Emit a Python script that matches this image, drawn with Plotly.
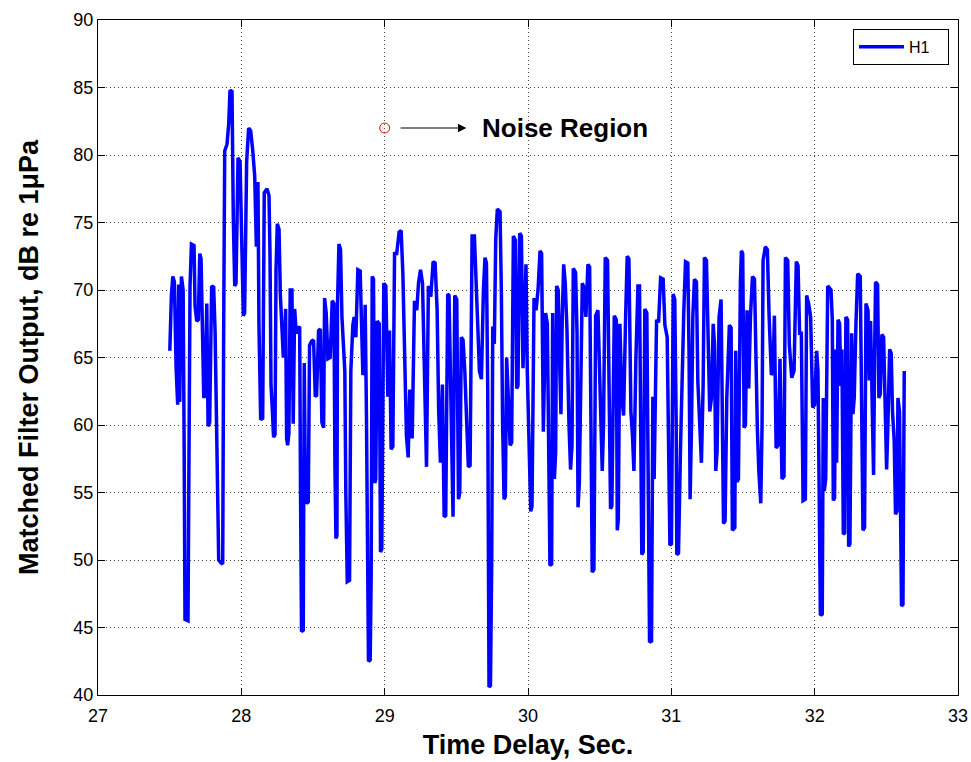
import plotly.graph_objects as go

# Time delay (s) and matched filter output (dB re 1uPa)
time_s = [
    27.501, 27.512, 27.522, 27.533, 27.545, 27.556, 27.563, 27.570, 27.582, 27.594,
    27.601, 27.607, 27.628, 27.635, 27.642, 27.652, 27.670, 27.677, 27.689, 27.700,
    27.710, 27.719, 27.726, 27.738, 27.747, 27.759, 27.768, 27.779, 27.793, 27.807,
    27.817, 27.826, 27.835, 27.842, 27.858, 27.870, 27.877, 27.884, 27.900, 27.912,
    27.921, 27.935, 27.944, 27.954, 27.963, 27.977, 27.991, 28.002, 28.014, 28.023,
    28.037, 28.051, 28.065, 28.079, 28.093, 28.105, 28.116,
    28.123, 28.135, 28.149, 28.160, 28.179, 28.193, 28.200, 28.207, 28.216, 28.225,
    28.235, 28.242, 28.251, 28.263, 28.272, 28.281, 28.293, 28.300, 28.309, 28.316,
    28.323, 28.332, 28.341, 28.353, 28.362, 28.372, 28.383, 28.395, 28.407, 28.413,
    28.420, 28.432, 28.439, 28.446, 28.455, 28.467, 28.476, 28.490, 28.504, 28.516,
    28.525, 28.539, 28.551, 28.562, 28.574, 28.581, 28.592, 28.604, 28.620, 28.634,
    28.646, 28.653, 28.660, 28.667, 28.671, 28.681, 28.692, 28.702, 28.713, 28.722,
    28.729, 28.739, 28.755, 28.764, 28.778,
    28.787, 28.799, 28.813, 28.829, 28.839, 28.848, 28.857, 28.864, 28.873, 28.880,
    28.887, 28.899, 28.906, 28.913, 28.922, 28.931, 28.938, 28.948, 28.962, 28.971,
    28.980, 28.994, 29.008, 29.022, 29.034, 29.045, 29.057, 29.069, 29.083, 29.101,
    29.115, 29.127, 29.141, 29.152, 29.164, 29.175, 29.182, 29.192, 29.208, 29.224,
    29.236, 29.250, 29.264, 29.278, 29.292, 29.305, 29.322, 29.338, 29.352, 29.366,
    29.377, 29.389, 29.403, 29.415, 29.426, 29.440,
    29.449, 29.459, 29.466, 29.477, 29.489, 29.503, 29.515, 29.524, 29.535, 29.547,
    29.559, 29.570, 29.584, 29.596, 29.610, 29.626, 29.638, 29.649, 29.661, 29.675,
    29.689, 29.700, 29.710, 29.719, 29.724, 29.728, 29.738, 29.747, 29.754, 29.765,
    29.775, 29.786, 29.805, 29.814, 29.823, 29.833, 29.842, 29.851, 29.863, 29.875,
    29.886, 29.898, 29.912, 29.921, 29.930, 29.942, 29.954, 29.965, 29.977, 29.986,
    29.995, 30.009, 30.019, 30.028, 30.042, 30.056, 30.070, 30.084, 30.095, 30.107,
    30.123, 30.135, 30.146, 30.153, 30.165, 30.172, 30.184, 30.193, 30.200, 30.211,
    30.221, 30.230, 30.239, 30.249, 30.260, 30.272, 30.286, 30.297, 30.307, 30.316,
    30.332, 30.342, 30.349, 30.358, 30.367, 30.379, 30.390, 30.404, 30.418, 30.430,
    30.439, 30.448, 30.460, 30.472, 30.488, 30.502, 30.518, 30.527, 30.539, 30.555,
    30.567, 30.576, 30.585, 30.602, 30.616, 30.623, 30.630, 30.641, 30.655, 30.667,
    30.681, 30.692, 30.704, 30.718, 30.729, 30.739, 30.753, 30.767,
    30.778, 30.787, 30.794, 30.804, 30.815, 30.829, 30.839, 30.848, 30.862, 30.871,
    30.880, 30.887, 30.897, 30.911, 30.925, 30.943, 30.955, 30.971, 30.980, 30.990,
    31.001, 31.013, 31.024, 31.034, 31.038, 31.050, 31.064, 31.076, 31.087, 31.099,
    31.115, 31.124, 31.131, 31.141, 31.150, 31.161, 31.175, 31.185, 31.196, 31.210,
    31.222, 31.231, 31.245, 31.257, 31.268, 31.280, 31.292, 31.301, 31.310, 31.319,
    31.333, 31.347, 31.357, 31.364, 31.375, 31.387, 31.405, 31.417, 31.426,
    31.443, 31.449, 31.459, 31.468, 31.475, 31.482, 31.489, 31.498, 31.508, 31.517,
    31.528, 31.540, 31.552, 31.566, 31.580, 31.591, 31.600, 31.610, 31.624, 31.633,
    31.640, 31.656, 31.670, 31.682, 31.698, 31.710, 31.719, 31.731, 31.745, 31.758,
    31.772, 31.786, 31.796, 31.812, 31.823, 31.840, 31.856, 31.872, 31.884, 31.895,
    31.907, 31.919, 31.935, 31.944, 31.958, 31.972, 31.986, 32.000, 32.014, 32.023,
    32.033, 32.040, 32.053, 32.060, 32.067, 32.077, 32.091,
    32.114, 32.123, 32.130, 32.139, 32.146, 32.153, 32.163, 32.174, 32.183, 32.190,
    32.200, 32.209, 32.218, 32.230, 32.237, 32.246, 32.258, 32.267, 32.276, 32.288,
    32.300, 32.318, 32.330, 32.337, 32.348, 32.358, 32.372, 32.381, 32.390, 32.402,
    32.411, 32.418, 32.425, 32.439, 32.448, 32.458, 32.469, 32.481, 32.490, 32.502,
    32.511, 32.523, 32.534, 32.543, 32.555, 32.564, 32.574, 32.581, 32.592, 32.599,
    32.606, 32.616, 32.620, 32.625,
]

output_db = [
    65.5, 69.6, 71.0, 70.6, 64.2, 61.5, 70.4, 61.7, 71.0, 70.0,
    58.5, 45.6, 45.5, 57.8, 70.3, 73.4, 73.3, 68.8, 67.7, 67.8,
    72.7, 72.3, 67.2, 62.0, 62.3, 69.0, 59.9, 60.2, 70.3, 70.2,
    66.9, 59.9, 54.5, 50.0, 49.8, 49.7, 67.5, 80.3, 80.8, 82.3,
    84.8, 84.7, 75.3, 70.3, 70.5, 79.8, 79.5, 73.5, 68.1, 68.3,
    79.5, 82.0, 81.8, 80.4, 78.5, 73.2, 78.0,
    67.4, 60.4, 60.5, 77.2, 77.5, 77.0, 72.7, 63.0, 61.2, 59.1,
    59.3, 71.5, 74.9, 74.5, 69.7, 67.6, 65.0, 65.4, 68.6, 59.0,
    58.5, 59.4, 70.0, 70.0, 60.1, 68.6, 66.8, 67.1, 67.3, 55.0,
    44.7, 44.8, 64.6, 56.3, 54.2, 54.3, 65.9, 66.2, 66.3, 62.1,
    62.2, 67.0, 67.1, 60.2, 59.8, 69.4, 68.3, 64.9, 65.0, 69.2,
    69.0, 57.0, 51.6, 51.8, 69.0, 73.4, 73.0, 68.0, 65.5, 64.0,
    55.0, 48.4, 48.5, 64.0, 67.4,
    68.0, 66.5, 71.5, 71.4, 68.0, 63.7, 64.0, 68.9, 60.7, 50.0,
    42.5, 42.6, 49.0, 71.0, 70.8, 55.7, 56.0, 67.7, 67.5, 50.6,
    50.8, 70.5, 70.3, 62.1, 67.0, 58.2, 58.4, 72.8, 72.6, 74.3,
    74.4, 71.2, 63.0, 59.2, 57.6, 62.6, 62.4, 59.0, 69.2, 68.5,
    70.5, 71.5, 70.5, 64.0, 56.9, 70.3, 69.5, 72.1, 72.0, 68.5,
    61.0, 57.2, 63.0, 53.2, 53.3, 69.7,
    69.6, 63.7, 58.0, 53.2, 69.6, 69.3, 54.5, 55.0, 66.5, 66.3,
    64.0, 60.3, 56.9, 57.0, 74.0, 74.0, 71.2, 67.5, 64.0, 63.4,
    70.0, 72.4, 72.0, 62.7, 50.0, 40.6, 40.7, 50.0, 67.3, 66.0,
    73.8, 76.0, 75.8, 70.0, 60.0, 54.5, 54.7, 65.0, 62.0, 58.5,
    58.7, 74.0, 73.7, 62.7, 62.9, 74.2, 74.0, 64.2, 68.0, 71.9,
    64.0, 58.0, 53.6, 54.0, 69.4, 68.5, 70.0, 72.9, 72.7, 59.5,
    68.3, 67.5, 55.0, 49.6, 49.7, 68.3, 56.0, 58.0, 70.3, 70.0,
    64.5, 60.8, 68.0, 71.9, 70.5, 67.0, 60.0, 56.7, 58.5, 71.6,
    71.3, 66.8, 53.9, 55.7, 62.0, 70.5, 70.2, 68.0, 71.9, 71.7,
    60.4, 49.1, 49.3, 68.1, 68.5, 63.0, 56.6, 60.0, 72.4, 72.2,
    64.0, 53.8, 54.0, 68.1, 67.8, 52.2, 53.0, 67.5, 62.0, 60.7,
    68.0, 72.5, 72.3, 61.0, 59.2, 56.6, 65.0, 70.3,
    70.3, 60.0, 50.4, 50.6, 68.6, 68.3, 49.7, 43.9, 44.0, 62.1,
    56.0, 60.0, 67.8, 67.6, 70.9, 70.8, 67.4, 66.5, 60.0, 51.1,
    51.2, 69.7, 69.3, 60.0, 50.4, 50.5, 58.3, 65.0, 68.4, 72.1,
    72.0, 65.0, 54.5, 60.0, 68.0, 70.8, 70.6, 63.2, 59.8, 57.2,
    63.0, 72.4, 72.2, 65.0, 61.0, 62.0, 67.5, 66.0, 56.6, 58.0,
    68.0, 69.3, 62.0, 52.7, 52.9, 62.0, 67.4, 67.2, 52.2,
    52.4, 65.5, 55.8, 56.0, 67.5, 70.6, 72.9, 72.7, 59.8, 60.0,
    68.5, 62.7, 68.0, 71.0, 70.8, 63.0, 59.8, 56.7, 54.2, 60.0,
    72.2, 73.2, 73.0, 68.1, 63.7, 64.0, 68.1, 58.3, 58.5, 64.9,
    56.0, 56.2, 72.4, 72.2, 66.0, 63.5, 64.0, 72.1, 71.8, 66.8,
    66.8, 54.4, 54.5, 69.6, 69.0, 68.0, 61.3, 61.5, 65.5, 64.0,
    55.0, 45.9, 46.0, 62.0, 55.1, 56.0, 70.3,
    70.0, 67.8, 54.4, 54.6, 65.6, 57.2, 67.8, 67.5, 62.9, 65.6,
    51.9, 52.0, 68.0, 67.8, 51.0, 51.2, 66.8, 60.8, 62.0, 67.5,
    71.2, 71.0, 60.0, 52.2, 52.4, 69.0, 68.5, 63.3, 67.7, 59.0,
    56.3, 65.0, 70.6, 70.4, 62.0, 62.3, 66.7, 66.5, 61.0, 56.7,
    60.0, 65.6, 65.3, 61.0, 58.8, 53.4, 53.6, 62.0, 61.0, 53.0,
    46.6, 46.7, 60.0, 64.0,
]

# Annotation values
noise_marker_t = [29.0]
noise_marker_db = [82.0]
arrow_tail_t = 29.10
arrow_head_t = 29.57
label_t = 29.665
label_db = 82.0

x_ticks = [27, 28, 29, 30, 31, 32, 33]
y_ticks = [40, 45, 50, 55, 60, 65, 70, 75, 80, 85, 90]

FONT = "Liberation Sans, Arial, Helvetica, sans-serif"

fig = go.Figure()
fig.add_trace(go.Scatter(
    x=time_s, y=output_db, mode="lines", name="H1\u00a0\u00a0\u00a0",
    line=dict(color="#0000FF", width=3.5),
))
fig.add_trace(go.Scatter(
    x=noise_marker_t, y=noise_marker_db, mode="markers", showlegend=False,
    marker=dict(symbol="circle-open", color="#FF0000", size=10, line=dict(width=1)),
))

fig.add_annotation(
    x=arrow_head_t, y=label_db, ax=arrow_tail_t, ay=label_db,
    xref="x", yref="y", axref="x", ayref="y",
    text="", showarrow=True, arrowhead=2, arrowsize=1.4, arrowwidth=1.2,
    arrowcolor="black",
)
fig.add_annotation(
    x=label_t, y=label_db, xref="x", yref="y", xanchor="left", yanchor="middle",
    text="<b>Noise Region</b>", showarrow=False,
    font=dict(family=FONT, size=26, color="black"),
)

axis_common = dict(
    showline=True, linecolor="black", linewidth=1, mirror="ticks",
    ticks="inside", ticklen=7, tickcolor="black",
    showgrid=True, gridcolor="#444444", griddash="1px,3px", gridwidth=1,
    zeroline=False, tickfont=dict(family=FONT, size=18, color="black"),
    automargin=False,
)

fig.update_xaxes(
    range=[27, 33], tickvals=x_ticks, ticklabelstandoff=4,
    title=dict(text="<b>Time Delay, Sec.</b>", font=dict(family=FONT, size=27, color="black"), standoff=10),
    **axis_common,
)
fig.update_yaxes(
    range=[40, 90], tickvals=y_ticks,
    title=dict(text="<b>Matched Filter Output, dB re 1μPa</b>", font=dict(family=FONT, size=27, color="black"), standoff=26),
    **axis_common,
)

fig.update_layout(
    width=971, height=762,
    margin=dict(l=98, r=13, t=20, b=67),
    paper_bgcolor="white", plot_bgcolor="white",
    font=dict(family=FONT, color="black"),
    showlegend=True,
    legend=dict(
        x=0.9895, y=0.987, xanchor="right", yanchor="top",
        bgcolor="white", bordercolor="black", borderwidth=1,
        itemwidth=45,
        font=dict(family=FONT, size=16, color="black"),
    ),
)

fig.write_html(
    "out.html",
    config={"displayModeBar": False},
    post_script="document.body.style.margin='0px';document.body.style.overflow='hidden';",
)
